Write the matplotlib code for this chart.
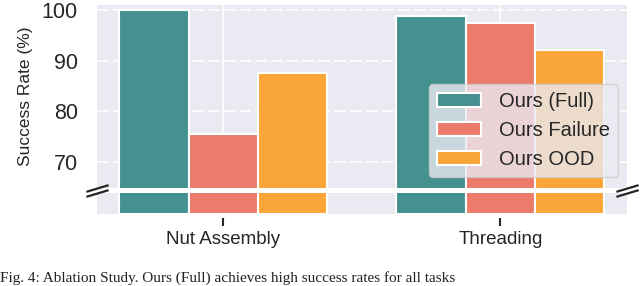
import numpy as np
import matplotlib
matplotlib.use("Agg")
import matplotlib.pyplot as plt
import seaborn as sns

sns.set_style("darkgrid")
plt.rcParams['font.family'] = ['Liberation Sans', 'DejaVu Sans']

# ---- data ----
tasks = ["Nut Assembly", "Threading"]
methods = ["Ours (Full)", "Ours Failure", "Ours OOD"]
full = [100.0, 98.7]
failure = [75.6, 97.4]
ood = [87.6, 92.0]
colors = ["#459190", "#EC7B6B", "#FAA537"]

series = [full, failure, ood]
x = np.arange(len(tasks))
w = 0.25

fig = plt.figure(figsize=(6.4, 2.86), dpi=100)
ax_top = fig.add_axes([0.152, 0.344, 0.828, 0.637])
ax_bot = fig.add_axes([0.152, 0.252, 0.828, 0.074])

for ax in (ax_top, ax_bot):
    for i, (vals, lab, c) in enumerate(zip(series, methods, colors)):
        ax.bar(x + (i - 1) * w, vals, width=w, color=c, edgecolor="white",
               linewidth=1.5, label=lab, zorder=2)
    ax.set_xlim(-0.455, 1.458)
    for s in ax.spines.values():
        s.set_visible(False)

ax_top.set_ylim(65, 100.85)
ax_bot.set_ylim(0, 5)

# top panel: dashed horizontal grid, solid vertical grid
ax_top.set_xticks(x)
ax_top.set_yticks([70, 80, 90, 100])
ax_top.yaxis.grid(True, color="white", linestyle=(0, (7, 2.5)), linewidth=1.2)
ax_top.xaxis.grid(True, color="white", linestyle="-", linewidth=1.2)
ax_top.tick_params(axis="x", bottom=False, labelbottom=False)
ax_top.tick_params(axis="y", length=0, pad=14, labelsize=15.5, labelcolor="#262626")
ax_top.set_ylabel("Success Rate (%)", fontsize=12.5, color="#262626")
ax_top.yaxis.set_label_coords(-0.122, 0.5)

# bottom panel: only bar bases and task ticks
ax_bot.set_yticks([])
ax_bot.set_xticks(x)
ax_bot.set_xticklabels(tasks)
ax_bot.yaxis.grid(False)
ax_bot.xaxis.grid(True, color="white", linestyle="-", linewidth=1.2)
ax_bot.spines["bottom"].set_position(("outward", 3))
ax_bot.tick_params(axis="x", bottom=True, direction="out", length=6, width=1.5,
                   color="#262626", pad=3, labelsize=13.5, labelcolor="#262626")

# break marks
d = 0.3
kw = dict(marker=[(-1, -d), (1, d)], markersize=16, linestyle="none",
          color="#262626", mec="#262626", mew=1.6, clip_on=False)
ax_top.plot([0, 1], [0, 0], transform=ax_top.transAxes, **kw)
ax_bot.plot([0, 1], [1, 1], transform=ax_bot.transAxes, **kw)

ax_top.legend(loc="lower right", bbox_to_anchor=(0.983, 0.058), borderaxespad=0,
              fontsize=14.5, handlelength=2.2, handletextpad=0.9)

fig.text(0.0, 0.004, "Fig. 4: Ablation Study. Ours (Full) achieves high success rates for all tasks",
         family=["Liberation Serif", "DejaVu Serif"], fontsize=11, va="bottom", ha="left",
         color="#222222")

fig.savefig("out.png", dpi=100)
